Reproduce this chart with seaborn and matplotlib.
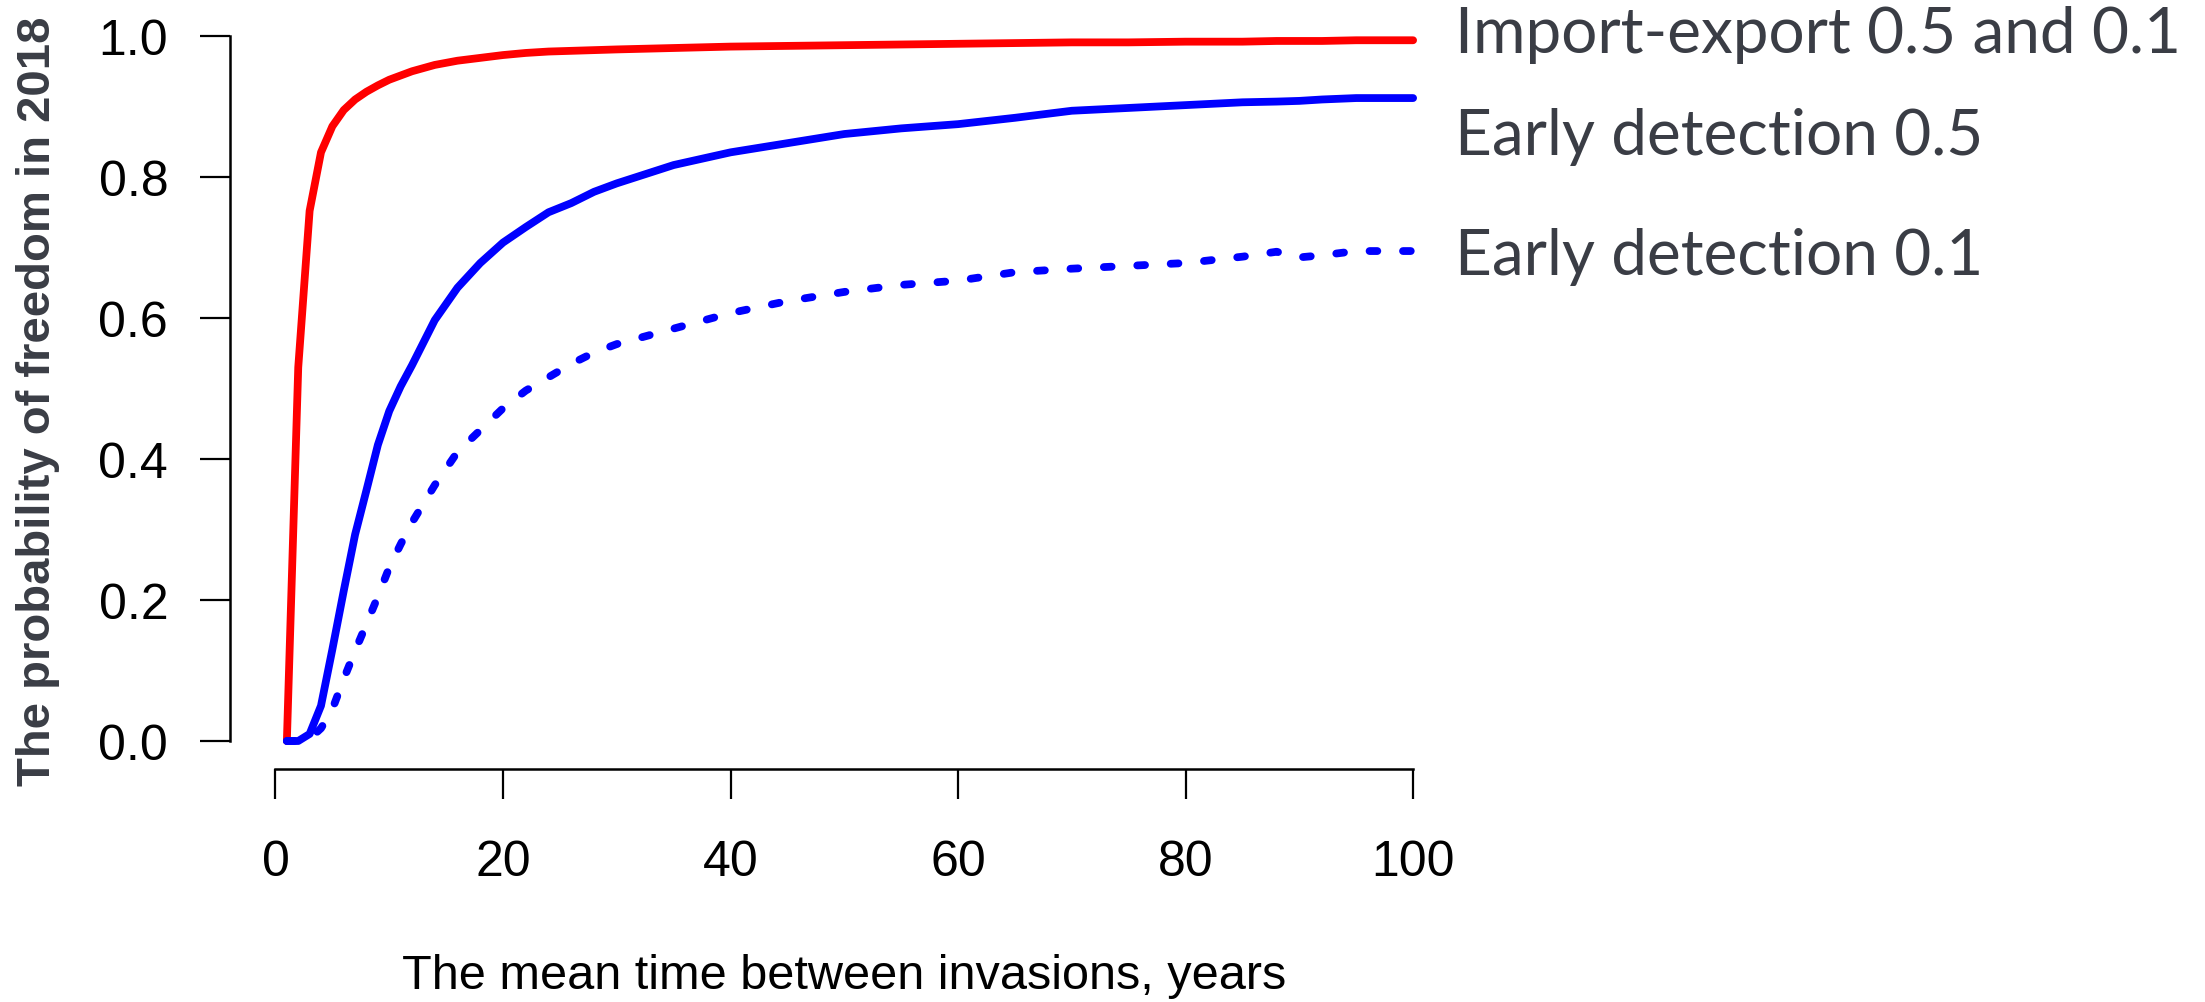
import pandas as pd
import seaborn as sns
import matplotlib
matplotlib.use('Agg')
import matplotlib.pyplot as plt

# mean time between invasions (years)
years = [1, 2, 3, 4, 5, 6, 7, 8, 9, 10, 11, 12, 14, 16, 18, 20, 22, 24, 26, 28, 30,
         35, 40, 45, 50, 55, 60, 65, 70, 75, 80, 85, 88, 90, 92, 95, 100]

# probability of freedom in 2018
import_export = [0.0, 0.53, 0.752, 0.835, 0.872, 0.895, 0.910, 0.921, 0.930, 0.938, 0.944,
                 0.950, 0.959, 0.965, 0.969, 0.973, 0.976, 0.978, 0.979, 0.980, 0.981,
                 0.983, 0.985, 0.986, 0.987, 0.988, 0.989, 0.990, 0.991, 0.991, 0.992,
                 0.992, 0.993, 0.993, 0.993, 0.994, 0.994]
early_05 = [0.0, 0.0, 0.01, 0.05, 0.13, 0.213, 0.293, 0.356, 0.42, 0.468, 0.503,
            0.533, 0.597, 0.643, 0.678, 0.707, 0.729, 0.750, 0.763, 0.779, 0.791,
            0.817, 0.835, 0.848, 0.861, 0.869, 0.875, 0.884, 0.894, 0.898, 0.902,
            0.906, 0.907, 0.908, 0.910, 0.912, 0.912]
early_01 = [0.0, 0.0, 0.003, 0.018, 0.045, 0.088, 0.128, 0.166, 0.205, 0.246, 0.279,
            0.31, 0.363, 0.41, 0.441, 0.472, 0.497, 0.516, 0.535, 0.551, 0.563,
            0.585, 0.607, 0.624, 0.637, 0.647, 0.653, 0.665, 0.670, 0.674, 0.678,
            0.687, 0.694, 0.686, 0.689, 0.695, 0.695]

labels = ["Import-export 0.5 and 0.1", "Early detection 0.5", "Early detection 0.1"]
label_y = [0.978, 0.833, 0.662]

df = pd.DataFrame({"years": years, "ie": import_export, "ed05": early_05, "ed01": early_01})

sns.set_style("ticks")
plt.rcParams['font.family'] = ['Liberation Sans', 'DejaVu Sans']

fig = plt.figure(figsize=(22.05, 10.03), dpi=100)
ax = fig.add_axes([0.1043, 0.2321, 0.5572, 0.7591])

lw = 5.6
sns.lineplot(data=df, x="years", y="ie", ax=ax, color="#ff0000", linewidth=lw,
             solid_capstyle="round", solid_joinstyle="round")
sns.lineplot(data=df, x="years", y="ed05", ax=ax, color="#0000ff", linewidth=lw,
             solid_capstyle="round", solid_joinstyle="round")
sns.lineplot(data=df, x="years", y="ed01", ax=ax, color="#0000ff", linewidth=lw,
             linestyle=(0, (1, 3.3)), dash_capstyle="round")

ax.set_xlim(-4, 104)
ax.set_ylim(-0.04, 1.04)
ax.set_xticks([0, 20, 40, 60, 80, 100])
ax.set_yticks([0, 0.2, 0.4, 0.6, 0.8, 1.0])
ax.set_yticklabels(["0.0", "0.2", "0.4", "0.6", "0.8", "1.0"])

sns.despine(ax=ax)
ax.spines['left'].set_bounds(0, 1)
ax.spines['bottom'].set_bounds(0, 100)
for s in ['left', 'bottom']:
    ax.spines[s].set_linewidth(1.8)
    ax.spines[s].set_color('black')
ax.tick_params(axis='both', length=21.5, width=1.6, color='black',
               labelsize=36, labelcolor='black')
ax.tick_params(axis='x', pad=29)
ax.tick_params(axis='y', pad=23)

ax.set_xlabel("The mean time between invasions, years", fontsize=35, color='black')
ax.xaxis.set_label_coords(0.5, -0.2716)
ax.xaxis.label.set_va('center')
ax.set_ylabel("The probability of freedom in 2018", fontsize=34, fontweight='bold',
              color='#3a3d45')
ax.yaxis.set_label_coords(-0.1563, 0.485)
ax.yaxis.label.set_va('center')

for txt, yy in zip(labels, label_y):
    ax.text(103.7, yy, txt, fontsize=46, color='#3a3d45', va='baseline', ha='left',
            family=['Lato', 'DejaVu Sans'], clip_on=False)

plt.savefig('out.png', dpi=100)
